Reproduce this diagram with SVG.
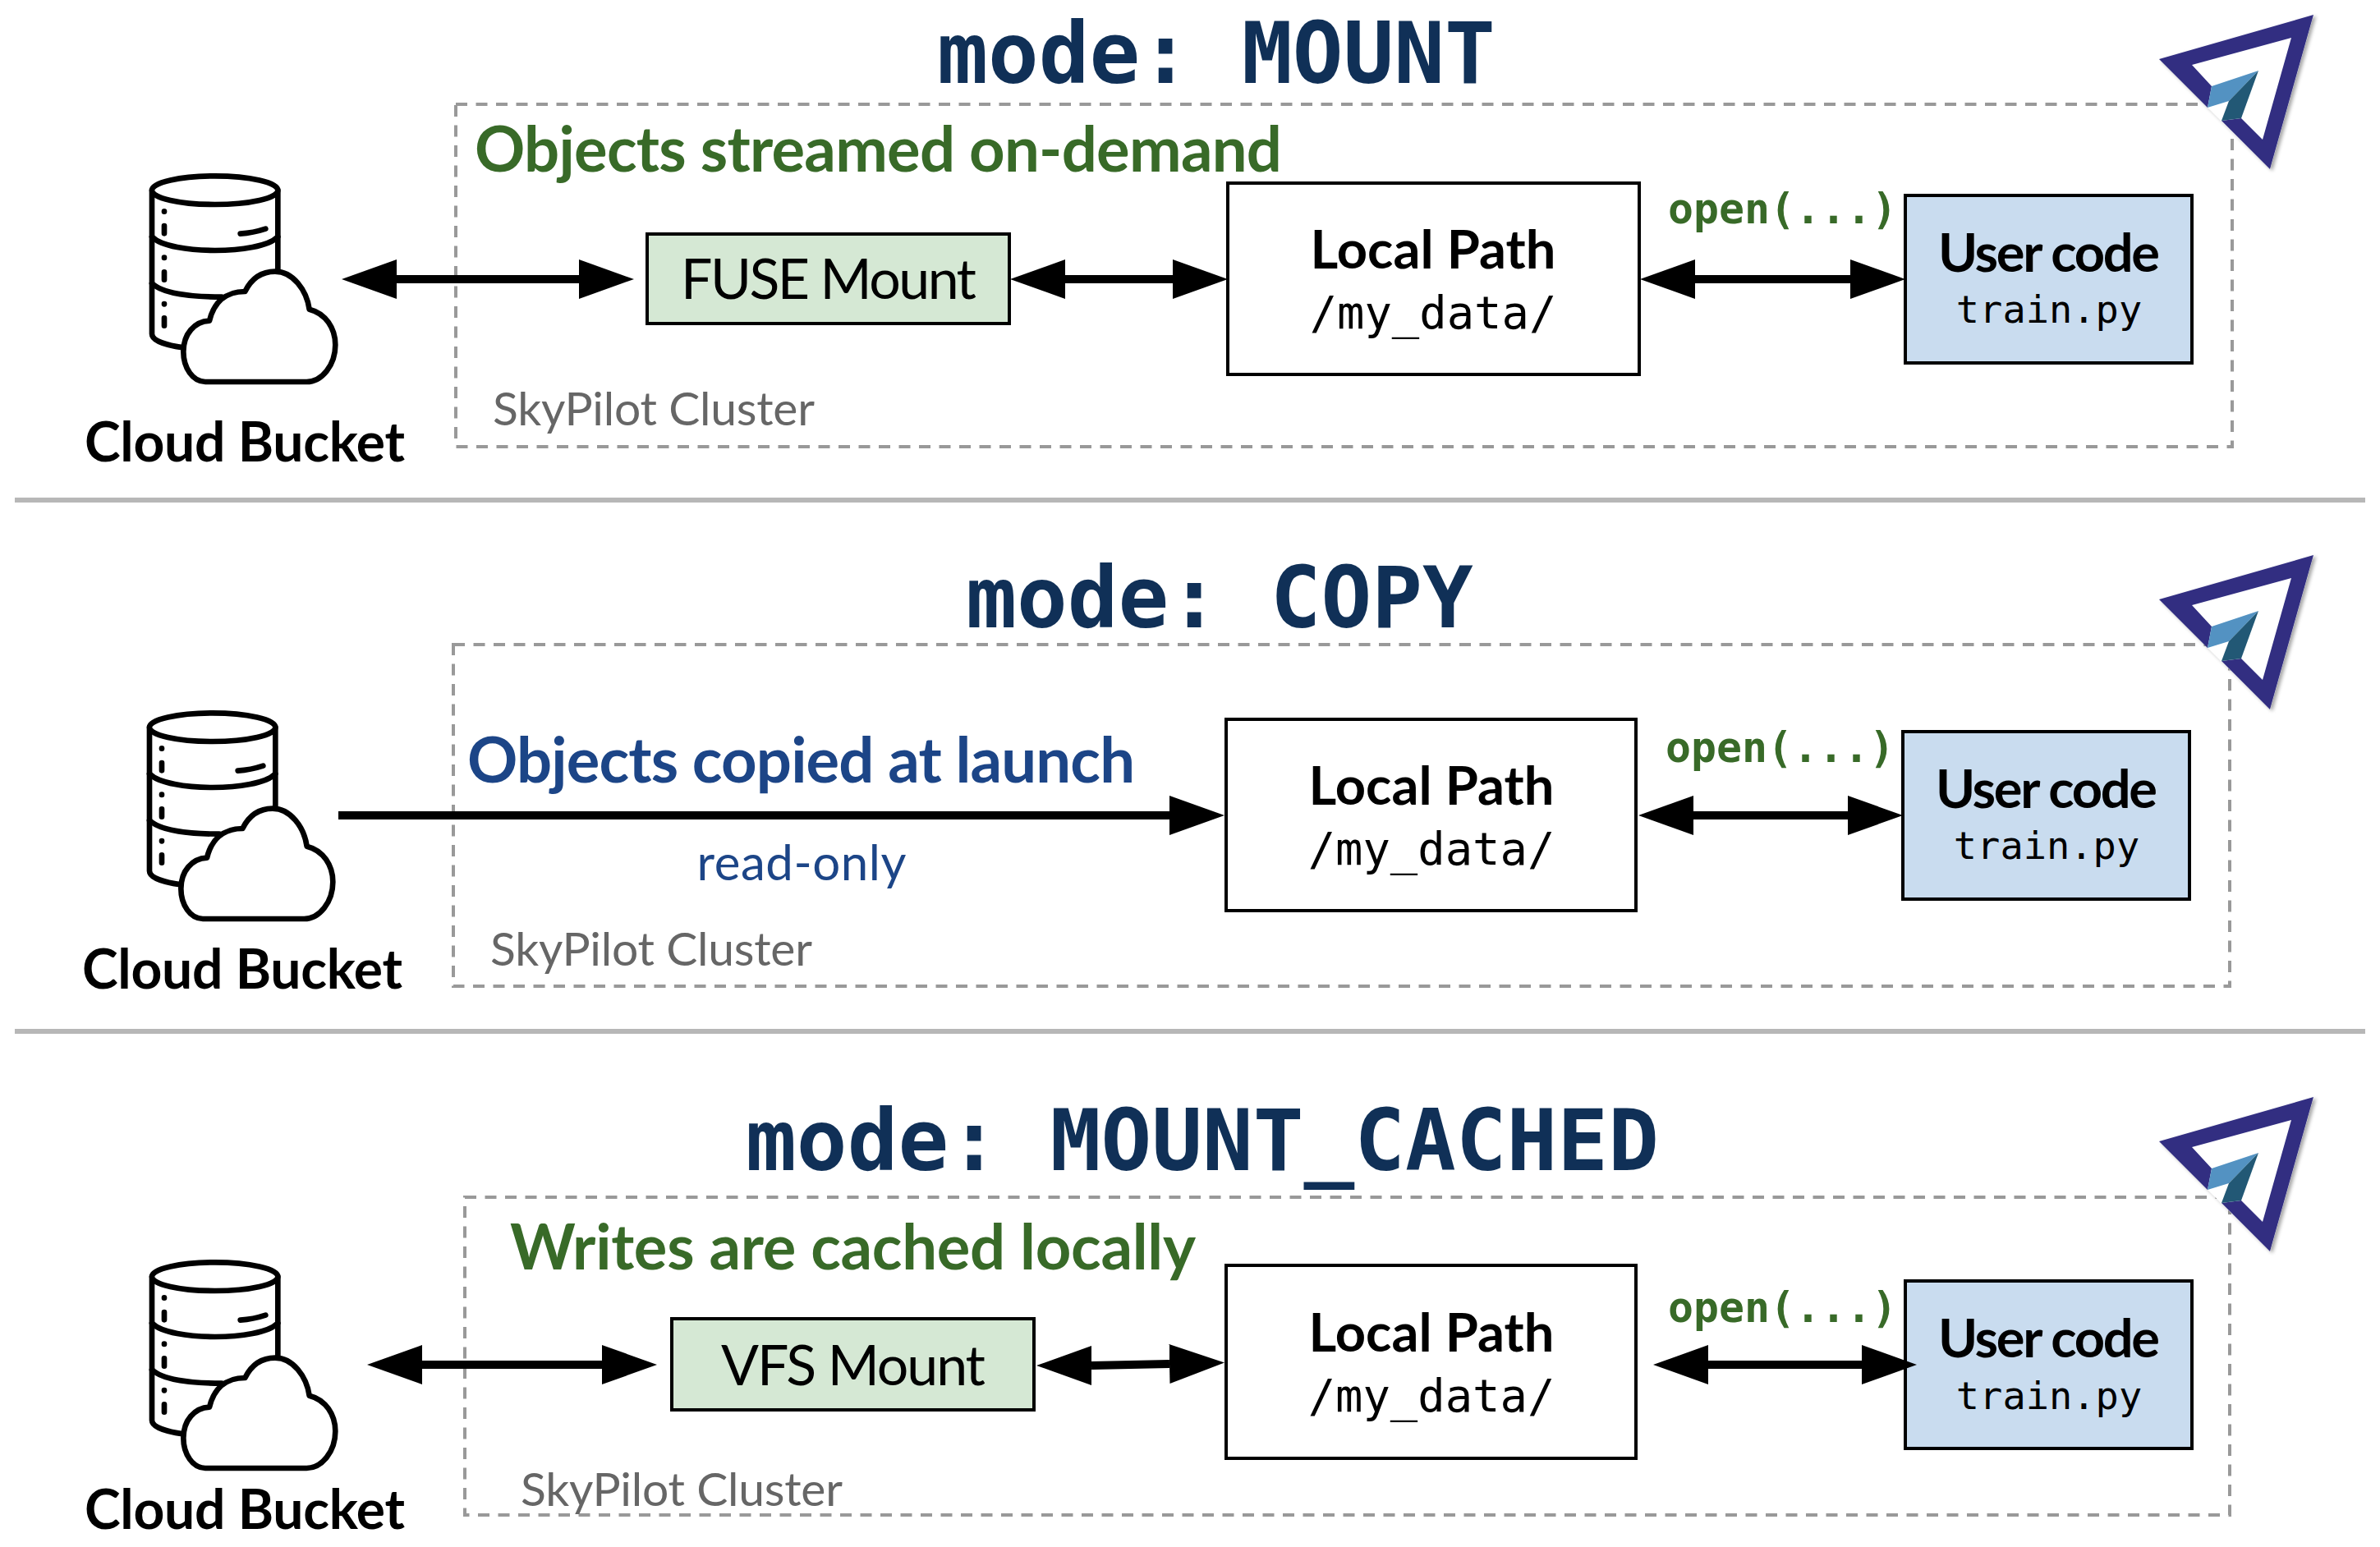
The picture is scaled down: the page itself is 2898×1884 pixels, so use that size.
<svg xmlns="http://www.w3.org/2000/svg" xmlns:xlink="http://www.w3.org/1999/xlink" width="2898" height="1884" viewBox="0 0 2898 1884">
<style>
.title{font-family:"DejaVu Sans Mono","Liberation Mono",monospace;font-weight:700;font-size:102.6px;fill:#103057;text-anchor:middle}
.sans{font-family:Lato,"Liberation Sans",sans-serif}
.head{font-size:76px;font-weight:700}
.green{fill:#386a28}
.blue{fill:#1c4587}
.sky{font-family:Lato,"Liberation Sans",sans-serif;font-size:57px;fill:#666}
.bucket{font-family:Lato,"Liberation Sans",sans-serif;font-size:66px;font-weight:700;fill:#000;text-anchor:middle}
.box{stroke:#000;stroke-width:4;stroke-linejoin:miter}
.mid{text-anchor:middle}
.nodehead{font-family:Lato,"Liberation Sans",sans-serif;font-size:65px;font-weight:700;fill:#000;text-anchor:middle}
.mount{font-family:Lato,"Liberation Sans",sans-serif;font-size:68px;fill:#000;text-anchor:middle}
.path{font-family:"DejaVu Sans Mono","Liberation Mono",monospace;font-size:55.5px;fill:#000;text-anchor:middle}
.py{font-family:"DejaVu Sans Mono","Liberation Mono",monospace;font-size:47px;fill:#000;text-anchor:middle}
.open{font-family:"DejaVu Sans Mono","Liberation Mono",monospace;font-size:51.5px;font-weight:700;fill:#386a28}
.dash{fill:none;stroke:#999;stroke-width:4;stroke-dasharray:14 10.5}
.sep{stroke:#b7b7b7;stroke-width:6}
.conn{stroke:#000;stroke-width:10;fill:none;marker-start:url(#hs);marker-end:url(#he)}
.oneway{stroke:#000;stroke-width:10;fill:none;marker-end:url(#he)}
.ic{fill:none;stroke:#000;stroke-width:20;stroke-linecap:round;stroke-linejoin:round}
</style>
<defs>
<marker id="he" markerUnits="userSpaceOnUse" markerWidth="67" markerHeight="48" refX="0" refY="24" orient="auto" viewBox="0 0 67 48"><path d="M0,0L67,24L0,48Z" fill="#000"/></marker>
<marker id="hs" markerUnits="userSpaceOnUse" markerWidth="67" markerHeight="48" refX="67" refY="24" orient="0" viewBox="0 0 67 48"><path d="M67,0L0,24L67,48Z" fill="#000"/></marker>
<filter id="sh" x="-10%" y="-10%" width="125%" height="125%"><feDropShadow dx="3" dy="2" stdDeviation="2" flood-color="#000" flood-opacity="0.35"/></filter>
<g id="bucket" transform="translate(160 180) scale(.33333)">
<path class="ic" d="M75,155V680C75,705 130,722 190,730M535,155V450"/>
<ellipse class="ic" cx="305" cy="155" rx="230" ry="52" style="fill:#fff"/>
<path class="ic" d="M75,325C110,360 210,375 305,375C400,375 500,360 535,325M75,495C110,530 210,545 330,545"/>
<path class="ic" d="M120,232v1M120,285v28M120,401v1M120,454v28M120,570v1M120,622v28M398,314C430,312 460,306 490,296"/>
<path class="ic" style="fill:#fff" d="M190,745C190,680 230,635 285,632C300,570 340,525 415,525C440,475 480,452 525,452C590,452 640,520 650,590C710,605 745,660 745,720C745,795 695,855 640,855H270C225,855 190,805 190,745Z"/>
</g>
<g id="logo" filter="url(#sh)">
<path fill="#fff" d="M2817,18L2629,72L2764,206Z"/>
<path fill="#312e81" d="M2817,18L2629,72L2688,131L2693,105L2669,79L2790,46L2755,170L2729,144L2705,147L2764,206Z"/>
<path fill="#5292c2" d="M2693,105L2750,86L2714,123L2688,131Z"/>
<path fill="#205875" d="M2750,86L2729,144L2705,147L2714,123Z"/>
</g>
</defs>
<rect width="2898" height="1884" fill="#fff"/>
<g id="separators"><line class="sep" x1="18" y1="609" x2="2880" y2="609"/><line class="sep" x1="18" y1="1256" x2="2880" y2="1256"/></g>

<g id="panel-mount">
<text class="title" x="1481" y="101">mode: MOUNT</text>
<rect class="dash" x="555" y="127" width="2163" height="417"/>
<text class="sans head green" x="578" y="209" textLength="983">Objects streamed on-demand</text>
<text class="sky" x="600" y="518" textLength="392">SkyPilot Cluster</text>
</g>
<g id="panel-copy">
<text class="title" x="1485" y="764">mode: COPY</text>
<rect class="dash" x="552" y="785" width="2163" height="416"/>
<text class="sans head blue" x="569" y="953" textLength="813">Objects copied at launch</text>
<text class="sans blue mid" x="976" y="1072" font-size="60" textLength="255">read-only</text>
<text class="sky" x="597" y="1176" textLength="392">SkyPilot Cluster</text>
</g>
<g id="panel-cached">
<text class="title" x="1464" y="1425">mode: MOUNT_CACHED</text>
<rect class="dash" x="566" y="1458" width="2149" height="387"/>
<text class="sans head green" x="621" y="1546" textLength="835">Writes are cached locally</text>
<text class="sky" x="634" y="1834" textLength="392">SkyPilot Cluster</text>
</g>

<g id="bucket-1"><use xlink:href="#bucket" href="#bucket"/><text class="bucket" x="298" y="562" textLength="390">Cloud Bucket</text></g>
<g id="fuse"><rect class="box" x="788" y="285" width="441" height="109" fill="#d5e8d4"/><text class="mount" x="1009" y="364" textLength="360">FUSE Mount</text></g>
<g id="local-1"><rect class="box" x="1495" y="223" width="501" height="233" fill="#fff"/><text class="nodehead" x="1745" y="327" textLength="299">Local Path</text><text class="path" x="1745" y="400">/my_data/</text></g>
<g id="user-1"><rect class="box" x="2320" y="238" width="349" height="204" fill="#c9dcef"/><text class="nodehead" x="2495" y="331" textLength="270">User code</text><text class="py" x="2495" y="393">train.py</text></g>
<g id="open-1"><text class="open" x="2031" y="272">open(...)</text></g>
<g id="logo-1"><use xlink:href="#logo" href="#logo"/></g>

<g id="bucket-2"><use xlink:href="#bucket" href="#bucket" transform="translate(-3 654)"/><text class="bucket" x="295" y="1204" textLength="390">Cloud Bucket</text></g>
<g id="local-2"><rect class="box" x="1493" y="876" width="499" height="233" fill="#fff"/><text class="nodehead" x="1743" y="980" textLength="299">Local Path</text><text class="path" x="1743" y="1053">/my_data/</text></g>
<g id="user-2"><rect class="box" x="2317" y="891" width="349" height="204" fill="#c9dcef"/><text class="nodehead" x="2492" y="984" textLength="270">User code</text><text class="py" x="2492" y="1046">train.py</text></g>
<g id="open-2"><text class="open" x="2028" y="928">open(...)</text></g>
<g id="logo-2"><use xlink:href="#logo" href="#logo" transform="translate(0 658)"/></g>

<g id="bucket-3"><use xlink:href="#bucket" href="#bucket" transform="translate(0 1323)"/><text class="bucket" x="298" y="1862" textLength="390">Cloud Bucket</text></g>
<g id="vfs"><rect class="box" x="818" y="1606" width="441" height="111" fill="#d5e8d4"/><text class="mount" x="1039" y="1687" textLength="322">VFS Mount</text></g>
<g id="local-3"><rect class="box" x="1493" y="1541" width="499" height="235" fill="#fff"/><text class="nodehead" x="1743" y="1646" textLength="299">Local Path</text><text class="path" x="1743" y="1719">/my_data/</text></g>
<g id="user-3"><rect class="box" x="2320" y="1560" width="349" height="204" fill="#c9dcef"/><text class="nodehead" x="2495" y="1653" textLength="270">User code</text><text class="py" x="2495" y="1716">train.py</text></g>
<g id="open-3"><text class="open" x="2031" y="1610">open(...)</text></g>
<g id="logo-3"><use xlink:href="#logo" href="#logo" transform="translate(0 1318)"/></g>

<g id="connectors">
<line class="conn" x1="483" y1="340" x2="705" y2="340"/>
<line class="conn" x1="1297" y1="340" x2="1428" y2="340"/>
<line class="conn" x1="2064" y1="340" x2="2253" y2="340"/>
<line class="oneway" x1="412" y1="993" x2="1424" y2="993"/>
<line class="conn" x1="2062" y1="993" x2="2250" y2="993"/>
<line class="conn" x1="514" y1="1662" x2="733" y2="1662"/>
<line class="conn" x1="1329" y1="1663" x2="1424" y2="1661"/>
<line class="conn" x1="2080" y1="1662" x2="2267" y2="1662"/>
</g>
</svg>
